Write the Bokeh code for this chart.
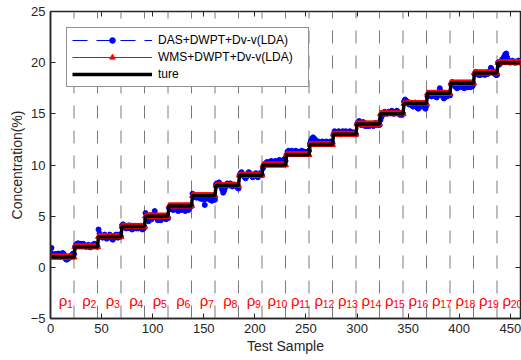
from bokeh.plotting import figure
from bokeh.models import (LinearAxis, Range1d, Legend, LegendItem, ColumnDataSource,
                          SingleIntervalTicker, CustomJSTickFormatter)
from bokeh.embed import file_html
from bokeh.resources import INLINE
from bokeh.core.properties import value

# ---------------- data ----------------
levels = [1, 2, 3, 4, 5, 6, 7, 8, 9, 10, 11, 12, 13, 14, 15, 16, 17, 18, 19, 20]
seg_len = 23
label_names = ["1", "2", "3", "4", "5", "6", "7", "8", "9", "10",
               "11", "12", "13", "14", "15", "16", "17", "18", "19", "20"]

das_values = [
    1.9, 1.3, 1.2, 1.25, 1.3, 1.2, 1.3, 1.35, 1.3, 1.1, 1.2, 1.4, 1.3, 1.0, 0.8, 0.75, 0.85, 0.9, 1.1, 1.0, 1.2, 1.35, 1.3,
    2.0, 2.2, 2.3, 2.35, 2.2, 2.3, 2.1, 2.25, 2.3, 2.2, 2.1, 2.0, 2.1, 2.2, 2.0, 1.95, 2.1, 2.2, 2.1, 2.3, 2.2, 2.1, 2.0,
    3.7, 3.3, 3.1, 3.0, 2.9, 3.1, 3.2, 3.0, 2.8, 2.9, 3.1, 3.2, 3.0, 2.8, 2.7, 2.9, 3.1, 3.2, 3.0, 2.9, 3.2, 3.1, 3.0,
    4.1, 4.2, 4.1, 3.9, 3.8, 4.0, 3.9, 4.1, 3.8, 3.9, 3.7, 3.8, 3.9, 4.0, 3.8, 3.9, 3.8, 3.9, 4.0, 3.8, 3.7, 3.8, 3.9,
    5.3, 4.7, 4.6, 4.5, 4.8, 5.1, 4.7, 4.9, 5.0, 5.5, 5.1, 4.8, 4.6, 4.7, 4.9, 4.6, 4.8, 5.0, 4.9, 4.8, 4.7, 4.9, 4.8,
    5.8, 5.7, 5.9, 5.8, 5.6, 5.7, 5.9, 5.8, 5.6, 5.5, 5.7, 5.8, 5.6, 5.9, 5.7, 5.6, 5.5, 5.7, 5.9, 5.6, 5.8, 5.9, 6.0,
    7.2, 7.0, 6.9, 7.0, 6.8, 6.9, 7.0, 6.8, 6.7, 6.9, 6.8, 6.6, 6.1, 6.7, 6.9, 6.8, 6.7, 6.6, 6.8, 6.5, 6.6, 6.7, 6.6,
    8.1, 8.2, 8.0, 8.3, 8.1, 7.9, 7.6, 7.3, 7.5, 7.8, 8.0, 8.2, 8.1, 8.0, 8.2, 8.1, 7.9, 8.0, 8.1, 8.0, 7.9, 7.8, 7.7,
    9.0, 9.2, 9.3, 9.1, 8.9, 8.8, 8.7, 8.9, 9.1, 9.3, 9.2, 9.0, 8.9, 8.8, 9.0, 9.1, 9.2, 8.9, 8.8, 9.0, 9.2, 9.1, 9.0,
    9.7, 9.9, 10.1, 10.2, 10.3, 10.2, 10.1, 10.3, 10.4, 10.3, 10.2, 10.3, 10.4, 10.3, 10.2, 10.4, 10.5, 10.4, 10.3, 10.4, 10.5, 10.6, 10.4,
    11.0, 11.3, 11.4, 11.3, 11.2, 11.4, 11.3, 11.2, 11.3, 11.4, 11.3, 11.2, 11.3, 11.2, 11.3, 11.4, 11.3, 11.2, 11.3, 11.1, 11.2, 11.3, 11.4,
    12.1, 12.4, 12.6, 12.7, 12.6, 12.5, 12.3, 12.2, 12.3, 12.2, 12.1, 12.2, 12.3, 12.2, 12.1, 12.2, 12.3, 12.2, 12.1, 12.2, 12.3, 12.2, 12.1,
    13.0, 13.3, 13.2, 13.1, 13.2, 13.3, 13.2, 13.0, 13.1, 13.3, 13.2, 13.1, 13.3, 13.2, 13.1, 13.2, 13.3, 13.2, 13.1, 13.2, 13.0, 13.1, 13.0,
    14.0, 14.2, 14.3, 14.1, 13.9, 14.1, 14.2, 14.0, 13.8, 13.9, 13.8, 13.9, 13.8, 13.9, 14.0, 13.9, 13.8, 14.0, 14.1, 14.0, 13.9, 14.0, 13.9,
    14.4, 14.7, 14.9, 15.1, 15.2, 15.1, 15.0, 15.1, 15.2, 15.1, 15.2, 15.3, 15.2, 15.0, 15.1, 15.2, 15.3, 15.2, 15.1, 14.9, 15.0, 14.9, 15.0,
    16.2, 16.4, 16.3, 16.2, 16.0, 15.9, 16.1, 16.0, 15.8, 15.7, 15.9, 16.1, 15.8, 15.6, 15.5, 15.7, 15.9, 15.8, 15.7, 16.0, 15.9, 15.5, 15.8,
    16.7, 16.9, 17.0, 16.8, 16.7, 16.9, 17.0, 16.8, 16.7, 16.6, 16.8, 17.1, 17.5, 17.2, 16.9, 16.7, 16.5, 16.6, 16.8, 16.7, 16.9, 17.0, 16.8,
    17.9, 18.1, 18.0, 17.9, 17.7, 17.6, 17.5, 17.6, 17.7, 17.6, 17.7, 17.8, 17.6, 17.5, 17.6, 17.7, 17.6, 17.8, 17.7, 17.6, 17.8, 17.7, 17.9,
    18.9, 19.1, 19.0, 18.9, 18.8, 18.9, 18.8, 18.9, 19.0, 18.9, 18.8, 18.9, 19.0, 18.9, 19.1, 19.2, 19.5, 19.3, 19.1, 19.0, 18.9, 18.8, 18.8,
    20.0, 19.8, 19.9, 20.1, 20.3, 20.4, 20.6, 20.8, 20.9, 20.5, 20.2, 20.1, 20.0, 20.1, 20.2, 20.1, 20.0, 20.1, 20.0, 20.1, 20.2, 20.1, 20.0,
]

# ---------------- derived series ----------------
n = len(levels) * seg_len
samples = list(range(1, n + 1))
ture = [lv for lv in levels for _ in range(seg_len)]
wms = list(ture)  # WMS result lies on the true concentration

src = ColumnDataSource(dict(x=samples, das=das_values, wms=wms, ture=ture))

FONT = "Liberation Sans"

p = figure(width=521, height=360, output_backend="svg", toolbar_location=None,
           x_range=Range1d(0, 460), y_range=Range1d(-5, 25),
           min_border_left=50, min_border_right=1, min_border_top=11, min_border_bottom=42)
p.xgrid.visible = False
p.ygrid.visible = False
p.outline_line_color = "#262626"
p.outline_line_width = 1.5
p.background_fill_color = "white"
p.border_fill_color = "white"

# dashed separators
bounds = [seg_len * k for k in range(1, len(levels))]
p.segment(x0=bounds, y0=[-5] * len(bounds), x1=bounds, y1=[25] * len(bounds),
          line_color="#7a7a7a", line_width=1, line_dash="13 12")

# series
das_line = p.line("x", "das", source=src, line_color="blue", line_width=1, line_dash="15 9")
das_pts = p.scatter("x", "das", source=src, marker="circle", size=5,
                    fill_color="blue", line_color="blue")
wms_line = p.line("x", "wms", source=src, line_color="red", line_width=1)
wms_pts = p.scatter("x", "wms", source=src, marker="triangle", size=6,
                    fill_color="red", line_color="red")
ture_line = p.line("x", "ture", source=src, line_color="black", line_width=3.5)

# rho labels
w_rho, w_dig = 8.3, 5.8
lab_x = [seg_len * k + 15.0 for k in range(len(levels))]
off_rho = [-(w_rho + len(s) * w_dig) / 2 for s in label_names]
off_sub = [o + w_rho for o in off_rho]
lab_src = ColumnDataSource(dict(x=lab_x, y=[-3.2] * len(lab_x), rho=["ρ"] * len(lab_x),
                                sub=label_names, orho=off_rho, osub=off_sub))
p.text(x="x", y="y", text="rho", source=lab_src, x_offset="orho", text_color="red",
       text_font=value(FONT), text_font_size=value("15px"),
       text_align="left", text_baseline="alphabetic")
p.text(x="x", y="y", text="sub", source=lab_src, x_offset="osub", y_offset=3.5,
       text_color="red", text_font=value(FONT), text_font_size=value("10.5px"),
       text_align="left", text_baseline="alphabetic")

# axes
def style_axis(ax, labels=True):
    ax.major_tick_in = 5
    ax.major_tick_out = 0
    ax.minor_tick_in = 0
    ax.minor_tick_out = 0
    ax.major_tick_line_color = "#262626"
    ax.major_tick_line_width = 1
    ax.axis_line_color = "#262626"
    ax.axis_line_width = 1.5
    if labels:
        ax.major_label_text_font = FONT
        ax.major_label_text_font_size = "13px"
        ax.major_label_text_color = "#262626"
        ax.axis_label_text_font = FONT
        ax.axis_label_text_font_size = "14px"
        ax.axis_label_text_font_style = "normal"
        ax.axis_label_text_color = "#262626"
    else:
        ax.formatter = CustomJSTickFormatter(code="return ''")
        ax.major_label_standoff = 0
        ax.axis_line_color = None

p.xaxis.ticker = SingleIntervalTicker(interval=50, num_minor_ticks=0)
p.yaxis.ticker = SingleIntervalTicker(interval=5, num_minor_ticks=0)
p.xaxis.axis_label = "Test Sample"
p.yaxis.axis_label = "Concentration(%)"
style_axis(p.xaxis[0])
style_axis(p.yaxis[0])
p.xaxis.major_label_standoff = 5
p.yaxis.major_label_standoff = 5
p.xaxis.axis_label_standoff = 2
p.yaxis.axis_label_standoff = 3

top_ax = LinearAxis(ticker=SingleIntervalTicker(interval=50, num_minor_ticks=0))
style_axis(top_ax, labels=False)
p.add_layout(top_ax, "above")
right_ax = LinearAxis(ticker=SingleIntervalTicker(interval=5, num_minor_ticks=0))
style_axis(right_ax, labels=False)
p.add_layout(right_ax, "right")

legend = Legend(items=[
    LegendItem(label="DAS+DWPT+Dv-v(LDA)", renderers=[das_line, das_pts]),
    LegendItem(label="WMS+DWPT+Dv-v(LDA)", renderers=[wms_line, wms_pts]),
    LegendItem(label="ture", renderers=[ture_line]),
], location="top_left")
legend.margin = 16
legend.padding = 5
legend.spacing = 3
legend.glyph_width = 80
legend.glyph_height = 14
legend.label_height = 14
legend.label_width = 145
legend.label_standoff = 6
legend.label_text_font = FONT
legend.label_text_font_size = "12px"
legend.label_text_color = "black"
legend.border_line_color = "#262626"
legend.border_line_width = 1
legend.background_fill_alpha = 1
p.add_layout(legend)

open("out.html", "w").write(file_html(p, INLINE))
